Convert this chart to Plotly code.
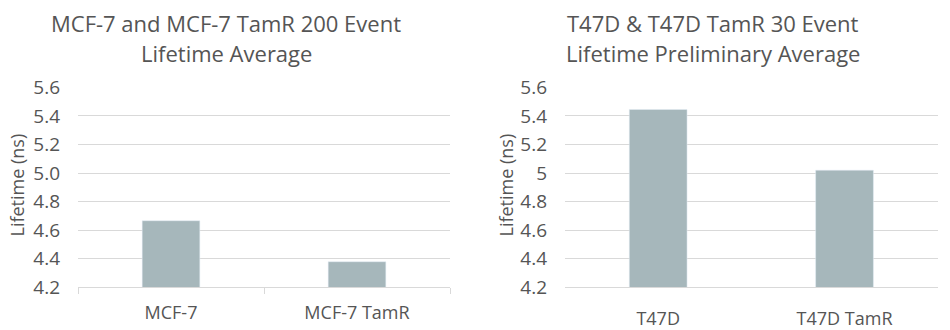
import plotly.graph_objects as go

# Data
left_categories = ["MCF-7", "MCF-7 TamR"]
left_values = [4.666, 4.379]
right_categories = ["T47D", "T47D TamR"]
right_values = [5.445, 5.02]
tick_vals = [4.2, 4.4, 4.6, 4.8, 5.0, 5.2, 5.4, 5.6]
left_tick_text = ["4.2", "4.4", "4.6", "4.8", "5.0", "5.2", "5.4", "5.6"]
right_tick_text = ["4.2", "4.4", "4.6", "4.8", "5", "5.2", "5.4", "5.6"]
left_title = ["MCF-7 and MCF-7 TamR 200 Event", "Lifetime Average"]
right_title = ["T47D & T47D TamR 30 Event", "Lifetime Preliminary Average"]
y_title = "Lifetime (ns)"

W, H = 950, 330
FONT = "Open Sans"
TXT = "#555555"
GRID = "#D9D9D9"
BAR = "#A6B7BB"

fig = go.Figure()
fig.add_trace(go.Bar(x=left_categories, y=left_values, marker_color=BAR,
                     width=0.31, xaxis="x", yaxis="y", showlegend=False))
fig.add_trace(go.Bar(x=right_categories, y=right_values, marker_color=BAR,
                     width=0.31, xaxis="x2", yaxis="y2", showlegend=False))

def px_x(p):
    return p / W

def px_y(p):
    return 1 - p / H

ydom = [px_y(287.3), px_y(87.3)]

common_y = dict(range=[4.2, 5.6], tickvals=tick_vals, showgrid=True,
                gridcolor=GRID, gridwidth=1, zeroline=False, showline=False,
                ticks="", ticklabelstandoff=17, automargin=False,
                tickfont=dict(family=FONT, size=19, color=TXT), domain=ydom)

fig.update_layout(
    width=W, height=H, margin=dict(l=0, r=0, t=0, b=0, pad=0, autoexpand=False),
    paper_bgcolor="white", plot_bgcolor="white",
    xaxis=dict(domain=[px_x(78), px_x(450)], anchor="y", showline=True,
               linecolor=GRID, linewidth=1, ticks="outside", tickson="boundaries",
               ticklen=6, tickcolor=GRID, showgrid=False, automargin=False,
               ticklabelstandoff=9,
               tickfont=dict(family=FONT, size=18, color=TXT)),
    yaxis=dict(anchor="x", ticktext=left_tick_text, **common_y),
    xaxis2=dict(domain=[px_x(565), px_x(937.7)], anchor="y2", showline=True,
                linecolor=GRID, linewidth=1, ticks="", showgrid=False,
                ticklabelstandoff=15, automargin=False,
                tickfont=dict(family=FONT, size=18, color=TXT)),
    yaxis2=dict(anchor="x2", ticktext=right_tick_text, **common_y),
)

ann = []
for i, line in enumerate(left_title):
    ann.append(dict(text=line, x=px_x(226), y=px_y(23 + 30 * i), xref="paper",
                    yref="paper", xanchor="center", yanchor="middle",
                    showarrow=False, font=dict(family=FONT, size=22, color=TXT)))
for i, line in enumerate(right_title):
    ann.append(dict(text=line, x=px_x(712.5), y=px_y(23 + 30 * i), xref="paper",
                    yref="paper", xanchor="center", yanchor="middle",
                    showarrow=False, font=dict(family=FONT, size=22, color=TXT)))
for xc in (16.5, 505.5):
    ann.append(dict(text=y_title, x=px_x(xc), y=px_y(185), xref="paper",
                    yref="paper", xanchor="center", yanchor="middle",
                    textangle=-90, showarrow=False,
                    font=dict(family=FONT, size=18, color=TXT)))
fig.update_layout(annotations=ann)

fig.write_html("out.html")
